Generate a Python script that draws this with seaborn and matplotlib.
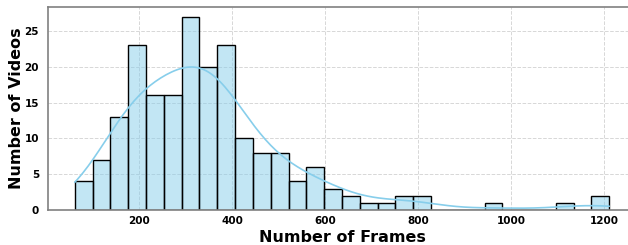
import matplotlib
matplotlib.use('Agg')
import matplotlib.pyplot as plt
import numpy as np
import seaborn as sns

# number of videos per frame-count bin (30 equal bins)
frame_min = 61
frame_max = 1211
video_counts = [4, 7, 13, 23, 16, 16, 27, 20, 23, 10,
                8, 8, 4, 6, 3, 2, 1, 1, 2, 2,
                0, 0, 0, 1, 0, 0, 0, 1, 0, 2]

n_bins = len(video_counts)
edges = np.linspace(frame_min, frame_max, n_bins + 1)
bin_centers = (edges[:-1] + edges[1:]) / 2

sns.set_style('whitegrid')
plt.rcParams['text.color'] = 'black'
plt.rcParams['axes.labelcolor'] = 'black'
plt.rcParams['xtick.color'] = 'black'
plt.rcParams['ytick.color'] = 'black'

fig = plt.figure(figsize=(6.28, 2.45), dpi=100)
ax = fig.add_axes([48 / 628, 35 / 245, 588 / 628, 203 / 245])

sns.histplot(x=bin_centers, weights=video_counts, bins=n_bins,
             binrange=(frame_min, frame_max), kde=True,
             kde_kws={'cut': 1, 'clip': (frame_min, frame_max), 'bw_adjust': 0.57},
             color='skyblue', edgecolor='black', linewidth=1,
             alpha=0.5, ax=ax)
ax.lines[0].set_color('skyblue')
ax.lines[0].set_linewidth(1.2)

ax.margins(x=0.05)
ax.grid(True, linestyle='--', color='lightgray', linewidth=0.7, alpha=0.9)
for side in ['top', 'bottom', 'left', 'right']:
    ax.spines[side].set_color('gray')
    ax.spines[side].set_linewidth(1.2)

ax.set_xlabel('Number of Frames', fontsize=11.5, fontweight='bold', labelpad=3)
ax.set_ylabel('Number of Videos', fontsize=11.5, fontweight='bold', labelpad=0)
ax.tick_params(axis='x', labelsize=7.5, pad=1)
ax.tick_params(axis='y', labelsize=7.5, pad=3)
for lab in ax.get_xticklabels() + ax.get_yticklabels():
    lab.set_fontweight('bold')

fig.savefig('out.png', dpi=100)
